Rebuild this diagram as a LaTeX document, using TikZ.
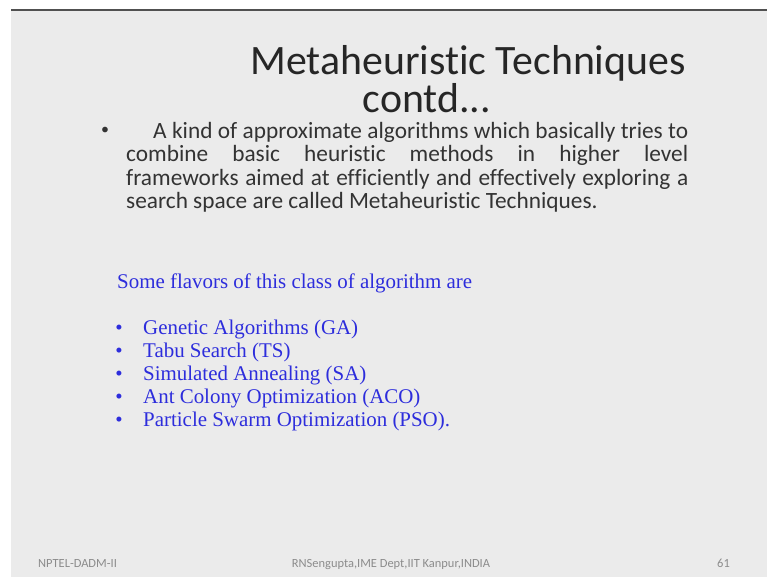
\documentclass[tikz,border=0pt]{standalone}
\usepackage{fontspec}
\setmainfont{Carlito}[Ligatures=NoCommon]
\newfontfamily\timesfont{Liberation Serif}
\definecolor{slidebg}{RGB}{235,235,235}
\definecolor{rulegray}{RGB}{80,80,80}
\definecolor{flavblue}{RGB}{45,45,220}
\definecolor{footgray}{RGB}{140,140,140}
\tikzset{
	titletext/.style={anchor=base,inner sep=0pt,text=black!85,font=\fontsize{42}{46}\selectfont},
	flavtext/.style={anchor=base west,inner sep=0pt,text=flavblue,font=\timesfont\fontsize{21}{23}\selectfont},
	foottext/.style={anchor=base,inner sep=0pt,text=footgray,font=\fontsize{12.5}{14}\selectfont}
}

\begin{document}
\begin{tikzpicture}[x=1bp,y=-1bp]
		\useasboundingbox (0,0) rectangle (767,577);
		\fill [white] (0,0) rectangle (767,577);
		\fill [slidebg] (11,10) rectangle (767,577);
		\draw [rulegray,line width=1.5bp] (11,10)--(767,10);
		% title
		\node [titletext] (t1) at (468,75) {Metaheuristic Techniques};
		\node [titletext] (t2) at (427,113) {contd...};
		% first bullet
		\node [anchor=base,inner sep=0pt,text=black!80,font=\fontsize{16}{18}\selectfont] (b0) at (105,135) {\textbullet};
		\node [anchor=north west,inner sep=0pt,text width=562bp,align=justify,text=black!80,
			font=\fontsize{23.4}{23.2}\selectfont] (para) at (126,122.5)
			{\hspace*{27bp}A kind of approximate algorithms which basically tries to\linebreak
			combine basic heuristic methods in higher level\linebreak
			frameworks aimed at efficiently and effectively exploring a\linebreak
			search space are called Metaheuristic Techniques.};
		% flavours
		\node [flavtext] (intro) at (117,288) {Some flavors of this class of algorithm are};
		\foreach \name/\txt [count=\i] in {ga/Genetic Algorithms (GA),ts/Tabu Search (TS),
			sa/Simulated Annealing (SA),aco/Ant Colony Optimization (ACO),
			pso/Particle Swarm Optimization (PSO).}{
			\node [flavtext,anchor=base] (dot\name) at (119,311+23*\i) {\textbullet};
			\node [flavtext] (\name) at (143,311+23*\i) {\txt};
		}
		% footer
		\node [foottext,anchor=base west] (f1) at (38,567) {NPTEL-DADM-II};
		\node [foottext] (f2) at (391,567) {RNSengupta,IME Dept,IIT Kanpur,INDIA};
		\node [foottext,anchor=base east] (f3) at (730,567) {61};
	\end{tikzpicture}
\end{document}
